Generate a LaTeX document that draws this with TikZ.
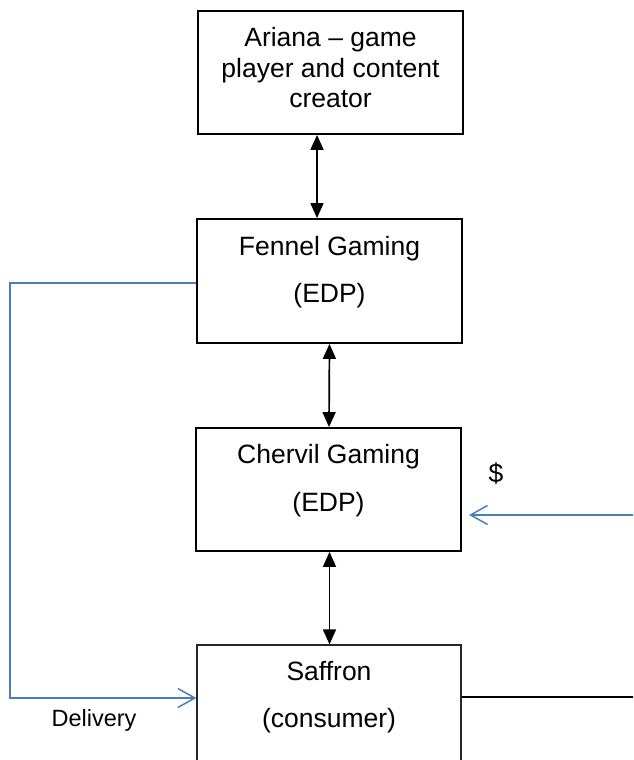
\documentclass[tikz,border=0pt]{standalone}
\usepackage{fontspec}
\setmainfont{Liberation Sans}
\usetikzlibrary{arrows.meta}
\definecolor{conblue}{RGB}{74,126,187}
\begin{document}
\begin{tikzpicture}[x=1pt,y=-1pt,
  box/.style={draw=black,line width=1.8pt,minimum width=265pt,minimum height=123pt,inner sep=0pt},
  lbl/.style={anchor=base,inner sep=0pt,font=\fontsize{26.5}{30}\selectfont},
  small/.style={anchor=base,inner sep=0pt,font=\fontsize{23.5}{28}\selectfont},
  dbl/.style={line width=1.7pt,{Triangle[length=15pt,width=13pt]}-{Triangle[length=15pt,width=13pt]}},
  bl/.style={draw=conblue,line width=1.5pt},
  bltip/.style={-{Straight Barb[length=17pt,width=19pt,line width=1.5pt]}}
]
\useasboundingbox (0,0) rectangle (633,760);
\clip (0,0) rectangle (633,760);
\fill[white] (0,0) rectangle (633,760);

% boxes
\node[box] (ariana) at (330.5,72.5) {};
\node[box,minimum height=124pt] (fennel) at (329.5,281) {};
\node[box] (chervil) at (328.5,489.5) {};
\node[box,draw=black!85,line width=1.2pt,minimum width=264pt,minimum height=124pt] (saffron) at (329,707) {};

% texts
\node[lbl] (arianaA) at (330.5,47) {Ariana – game};
\node[lbl] (arianaB) at (330.5,77.5) {player and content};
\node[lbl] (arianaC) at (330.5,107.5) {creator};
\node[lbl] (fennelA) at (329.5,255) {Fennel Gaming};
\node[lbl] (fennelB) at (329.5,302) {(EDP)};
\node[lbl] (chervilA) at (328.5,463) {Chervil Gaming};
\node[lbl] (chervilB) at (328.5,511) {(EDP)};
\node[lbl] (saffronA) at (329,680) {Saffron};
\node[lbl] (saffronB) at (329,727) {(consumer)};
\node[lbl] (dollar) at (496,482) {\$};
\node[small] (delivery) at (94,726) {Delivery};

% black double arrows
\draw[dbl] ([xshift=-13.5pt]ariana.south) -- ([xshift=-12.5pt]fennel.north);
\draw[dbl] (fennel.south) -- ([xshift=0.5pt]chervil.north);
\draw[dbl] ([xshift=1pt]chervil.south) -- ([xshift=0.5pt]saffron.north);

% delivery line
\coordinate (dL) at (10,698);
\draw[bl,bltip] ([yshift=-2pt]fennel.west) -| (dL) -- (dL -| saffron.west);

% payment arrow
\coordinate (pR) at (634,515);
\coordinate (pT) at (469,515);
\draw[bl,bltip] (pR) -- (pT);

% saffron outgoing line
\coordinate (cR) at (634,697);
\draw[line width=1.6pt] (cR -| saffron.east) -- (cR);
\end{tikzpicture}
\end{document}
